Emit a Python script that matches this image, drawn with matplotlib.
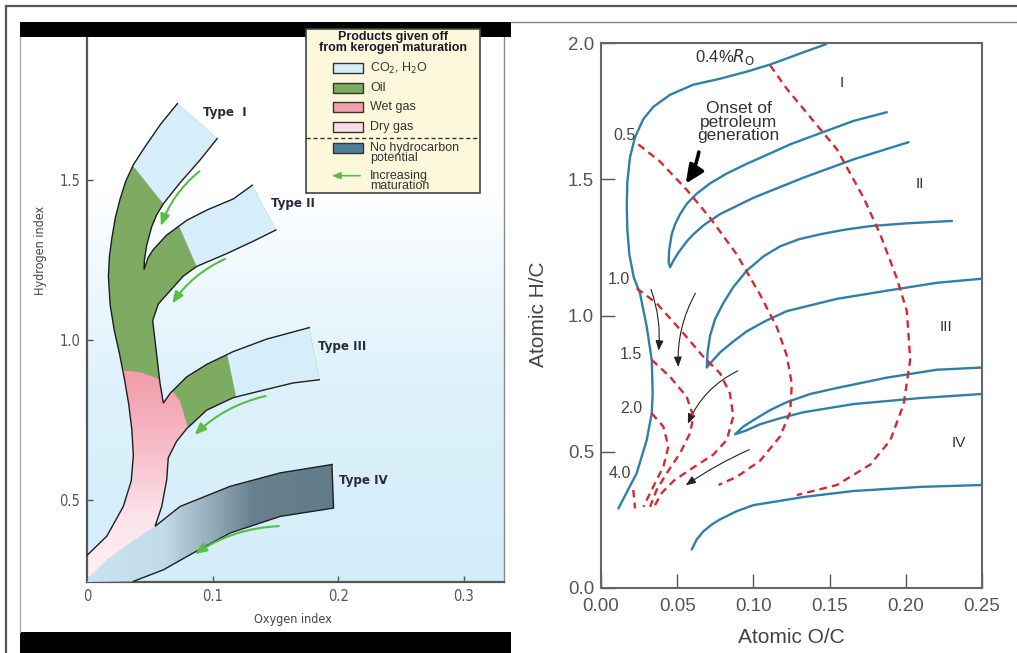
import numpy as np
import matplotlib.pyplot as plt
from matplotlib.patches import Polygon, Rectangle, FancyArrowPatch
from matplotlib.colors import LinearSegmentedColormap

W, H = 1017, 653
NARROW = ['DejaVu Sans']
SANS = ['Liberation Sans', 'DejaVu Sans']

# ---------------- left panel: kerogen bands (oxygen index, hydrogen index) -------------
outer_edge = [(0.0, 0.328), (0.0155, 0.387), (0.0287, 0.48), (0.0350, 0.56), (0.0367, 0.64),
              (0.0355, 0.72), (0.033, 0.80), (0.0295, 0.88), (0.0255, 0.96), (0.0215, 1.03),
              (0.0182, 1.11), (0.0168, 1.199), (0.0176, 1.26), (0.0194, 1.314), (0.0222, 1.38),
              (0.026, 1.439), (0.0305, 1.495), (0.0367, 1.548), (0.047, 1.61), (0.0585, 1.675),
              (0.0718, 1.739)]
type1_inner = [(0.1036, 1.630), (0.0898, 1.5625), (0.0738, 1.491), (0.0606, 1.426),
               (0.0551, 1.39), (0.0513, 1.354), (0.0473, 1.296), (0.0455, 1.25), (0.0452, 1.220)]
type2_upper = [(0.0485, 1.258), (0.0526, 1.283), (0.0632, 1.328), (0.0792, 1.374), (0.0951, 1.406),
               (0.1163, 1.441), (0.1315, 1.484)]
type2_lower = [(0.1503, 1.344), (0.1323, 1.309), (0.1110, 1.270), (0.0871, 1.230), (0.0765, 1.20),
               (0.0685, 1.165), (0.0566, 1.113), (0.0521, 1.061)]
trunk_mid = [(0.0552, 0.957), (0.0579, 0.866), (0.0606, 0.803)]
type3_upper = [(0.0659, 0.833), (0.0792, 0.885), (0.0951, 0.924), (0.1163, 0.964),
               (0.1429, 1.003), (0.1769, 1.039)]
type3_lower = [(0.1849, 0.876), (0.1641, 0.866), (0.1429, 0.846), (0.1163, 0.820),
               (0.0951, 0.781), (0.0792, 0.723), (0.0712, 0.684), (0.0645, 0.632)]
trunk_low = [(0.0633, 0.564), (0.0593, 0.48), (0.054, 0.418)]
type4_upper = [(0.0739, 0.48), (0.1138, 0.543), (0.1537, 0.585), (0.1949, 0.611)]
type4_upper_soft = [(0.002, 0.262), (0.0155, 0.314), (0.034, 0.366), (0.054, 0.418)]
type4_lower = [(0.1962, 0.475), (0.1537, 0.449), (0.1138, 0.397), (0.0845, 0.335),
               (0.0606, 0.282), (0.0367, 0.246)]
pink_boundary = [(0.028, 0.905), (0.042, 0.900), (0.055, 0.882), (0.066, 0.85),
                 (0.0739, 0.81), (0.0806, 0.72)]
co2_tip1 = [(0.0248, 1.60), (0.0367, 1.543), (0.0606, 1.426), (0.16, 1.62), (0.16, 2.0), (0.0248, 2.0)]
co2_tip2 = [(0.0705, 1.38), (0.0738, 1.350), (0.0871, 1.230), (0.0905, 1.20), (0.2, 1.25),
            (0.2, 1.52), (0.1, 1.52)]
co2_tip3 = [(0.109, 1.0), (0.111, 0.964), (0.1185, 0.824), (0.12, 0.79), (0.22, 0.8),
            (0.22, 1.1), (0.11, 1.1)]
maturation_arrows = [((0.0911, 1.533), (0.0579, 1.348)), ((0.1118, 1.257), (0.0664, 1.107)),
                     ((0.1442, 0.827), (0.0839, 0.697)), ((0.1548, 0.419), (0.0839, 0.326))]
kerogen_types = ['Type  I', 'Type II', 'Type III', 'Type IV']
kerogen_label_xy = [(0.0923, 1.712), (0.1462, 1.426), (0.1842, 0.98), (0.2002, 0.56)]

legend_names = ['CO$_2$, H$_2$O', 'Oil', 'Wet gas', 'Dry gas', 'No hydrocarbon\npotential']
legend_colors = ['#d5eefa', '#7dab62', '#f3a0ae', '#fbdbe7', '#4f7f98']

# ---------------- right panel: van Krevelen (atomic O/C, atomic H/C) -----------------
blue_type1 = [(0.1478, 1.996), (0.1329, 1.966), (0.111, 1.921), (0.0957, 1.895), (0.0782, 1.869),
              (0.0606, 1.847), (0.0453, 1.810), (0.0344, 1.766), (0.0278, 1.721), (0.0223, 1.654),
              (0.0190, 1.580), (0.0173, 1.491), (0.0169, 1.402), (0.0173, 1.313), (0.0186, 1.224),
              (0.0215, 1.14), (0.0256, 1.081), (0.030, 0.959), (0.0333, 0.837), (0.0339, 0.714),
              (0.0333, 0.641), (0.030, 0.543), (0.0234, 0.421), (0.0114, 0.292)]
blue_type2 = [(0.1876, 1.746), (0.1657, 1.714), (0.1438, 1.669), (0.125, 1.63), (0.111, 1.595),
              (0.095, 1.555), (0.0825, 1.521), (0.0716, 1.485), (0.0628, 1.447), (0.0563, 1.41),
              (0.0519, 1.372), (0.0486, 1.335), (0.0464, 1.298), (0.0447, 1.239), (0.0444, 1.195),
              (0.0453, 1.177), (0.0471, 1.197), (0.0508, 1.231), (0.0563, 1.272), (0.0606, 1.298),
              (0.068, 1.334), (0.0781, 1.372), (0.1, 1.432), (0.1329, 1.506), (0.1657, 1.573),
              (0.2018, 1.636)]
blue_type3 = [(0.2303, 1.347), (0.2, 1.338), (0.1767, 1.328), (0.16, 1.315), (0.1438, 1.298),
              (0.13, 1.28), (0.1176, 1.254), (0.1066, 1.217), (0.0957, 1.165), (0.0869, 1.105),
              (0.0803, 1.046), (0.0749, 0.987), (0.0716, 0.927), (0.07, 0.868), (0.0694, 0.809),
              (0.0727, 0.831), (0.0782, 0.865), (0.0869, 0.905), (0.0957, 0.942), (0.108, 0.98),
              (0.1219, 1.016), (0.1547, 1.061), (0.1876, 1.091), (0.2204, 1.12), (0.25, 1.135)]
blue_type34 = [(0.25, 0.809), (0.2204, 0.801), (0.1876, 0.772), (0.1548, 0.734), (0.1373, 0.712),
               (0.1219, 0.682), (0.111, 0.653), (0.1, 0.616), (0.0935, 0.593), (0.088, 0.564),
               (0.0957, 0.579), (0.1044, 0.601), (0.1176, 0.623), (0.1329, 0.645), (0.1657, 0.675),
               (0.2095, 0.697), (0.25, 0.712)]
blue_type4 = [(0.0595, 0.141), (0.0628, 0.178), (0.0672, 0.208), (0.0727, 0.233), (0.0782, 0.252),
              (0.0891, 0.282), (0.1, 0.304), (0.1165, 0.319), (0.1329, 0.334), (0.1657, 0.356),
              (0.2095, 0.371), (0.25, 0.378)]
ro_04 = [(0.111, 1.918), (0.1219, 1.832), (0.1373, 1.728), (0.1548, 1.61), (0.1723, 1.432),
         (0.1832, 1.298), (0.1942, 1.135), (0.2007, 1.016), (0.2029, 0.838), (0.1986, 0.675),
         (0.1898, 0.542), (0.1767, 0.453), (0.1548, 0.378), (0.1285, 0.341)]
ro_05 = [(0.0245, 1.628), (0.0387, 1.565), (0.0563, 1.461), (0.0716, 1.358), (0.0891, 1.224),
         (0.1044, 1.076), (0.1154, 0.957), (0.1219, 0.853), (0.1252, 0.749), (0.1241, 0.645),
         (0.1175, 0.556), (0.1044, 0.467), (0.0891, 0.408), (0.0771, 0.378)]
ro_10 = [(0.0234, 1.10), (0.0365, 1.045), (0.054, 0.935), (0.0671, 0.849), (0.0781, 0.788),
         (0.0846, 0.714), (0.0868, 0.629), (0.0825, 0.543), (0.0738, 0.49), (0.0600, 0.44),
         (0.0480, 0.395), (0.0400, 0.35), (0.0350, 0.30)]
ro_15 = [(0.0333, 0.837), (0.0453, 0.775), (0.0562, 0.702), (0.0606, 0.629), (0.0584, 0.568),
         (0.0518, 0.494), (0.0431, 0.421), (0.0365, 0.36), (0.0322, 0.298)]
ro_20 = [(0.0333, 0.641), (0.0409, 0.592), (0.0442, 0.519), (0.0409, 0.445), (0.0343, 0.372),
         (0.0278, 0.298)]
ro_40 = [(0.0212, 0.36), (0.0223, 0.292)]
ro_labels = ['0.5', '1.0', '1.5', '2.0', '4.0']
ro_label_xy = [(0.0081, 1.659), (0.0042, 1.132), (0.0125, 0.856), (0.0125, 0.657), (0.0048, 0.42)]
type_roman = ['I', 'II', 'III', 'IV']
type_roman_xy = [(0.158, 1.855), (0.2095, 1.481), (0.2263, 0.957), (0.2347, 0.531)]
path_arrows = [((0.0322, 1.105), (0.0376, 0.861), -0.12), ((0.0628, 1.09), (0.0508, 0.801), 0.15),
               ((0.0913, 0.801), (0.0563, 0.593), 0.2), ((0.099, 0.512), (0.0541, 0.371), 0.05)]


def px_rect(l, t, r, b):
    return [l / W, 1 - b / H, (r - l) / W, (b - t) / H]


fig = plt.figure(figsize=(W / 100, H / 100), dpi=100)
fig.patch.set_facecolor('white')

# ======================= left panel =======================
ax = fig.add_axes(px_rect(87.3, 37, 504, 582))
ax.set_xlim(0, 0.332)
ax.set_ylim(0.244, 1.947)

bg_cmap = LinearSegmentedColormap.from_list(
    'bg', [(0, '#d3edf9'), (0.33, '#dcf1fb'), (0.56, '#eef8fd'), (0.72, '#ffffff'), (1, '#ffffff')])
ax.imshow(np.linspace(0, 1, 256)[:, None], cmap=bg_cmap, aspect='auto', origin='lower',
          extent=[0, 0.332, 0.244, 1.947], zorder=0)

shape = outer_edge + type1_inner + type2_upper + type2_lower + trunk_mid + \
    type3_upper + type3_lower + trunk_low + [(0.0, 0.244)]
clip_shape = Polygon(shape, closed=True, facecolor='none', edgecolor='none')
ax.add_patch(clip_shape)

pink_cmap = LinearSegmentedColormap.from_list(
    'pink', [(0, '#fdf2f6'), (0.3, '#fce3eb'), (0.6, '#f7bfca'), (0.9, '#f3a2af'), (1, '#f29dab')])
im = ax.imshow(np.linspace(0, 1, 256)[:, None], cmap=pink_cmap, aspect='auto', origin='lower',
               extent=[-0.01, 0.12, 0.244, 0.92], zorder=1)
im.set_clip_path(clip_shape)

green_poly = [(-0.01, 0.905)] + pink_boundary + [(0.10, 0.60), (0.30, 0.60), (0.30, 1.95), (-0.01, 1.95)]
p = Polygon(green_poly, closed=True, facecolor='#7dab62', edgecolor='none', zorder=2)
ax.add_patch(p)
p.set_clip_path(clip_shape)
for tip in (co2_tip1, co2_tip2, co2_tip3):
    p = Polygon(tip, closed=True, facecolor='#d5eefa', edgecolor='none', zorder=3)
    ax.add_patch(p)
    p.set_clip_path(clip_shape)

band4 = type4_upper_soft + type4_upper + type4_lower + [(0.0, 0.244)]
band4_patch = Polygon(band4, closed=True, facecolor='none', edgecolor='none')
ax.add_patch(band4_patch)
dark_cmap = LinearSegmentedColormap.from_list(
    'dark', [(0, '#c9e3f0'), (0.3, '#c3dcea'), (0.5, '#93abb8'), (0.66, '#68818f'), (1, '#627b89')])
im4 = ax.imshow(np.linspace(0, 1, 256)[None, :], cmap=dark_cmap, aspect='auto', origin='lower',
                extent=[0, 0.2, 0.244, 0.62], zorder=4)
im4.set_clip_path(band4_patch)

line_kw = dict(color='#1e1e1e', lw=1.0, zorder=5, solid_joinstyle='miter')
for seg in (outer_edge, type1_inner + type2_upper,
            type2_lower + trunk_mid + type3_upper,
            type3_lower + trunk_low + type4_upper,
            [type4_upper[-1]] + type4_lower):
    xs, ys = zip(*seg)
    ax.plot(xs, ys, **line_kw)

for (a, b) in maturation_arrows:
    ax.add_patch(FancyArrowPatch(a, b, connectionstyle='arc3,rad=0.15',
                                 arrowstyle='-|>,head_length=7,head_width=2.8',
                                 color='#57bd45', lw=1.5, zorder=6))
for name, (x, y) in zip(kerogen_types, kerogen_label_xy):
    ax.text(x, y, name, family=NARROW, fontstretch='condensed', fontsize=9.5, fontweight='bold',
            color='#2b2b3b', ha='left', va='center', zorder=6)

ax.set_xticks([0, 0.1, 0.2, 0.3])
ax.set_xticklabels(['0', '0.1', '0.2', '0.3'])
ax.set_yticks([0.5, 1.0, 1.5])
ax.set_yticklabels(['0.5', '1.0', '1.5'])
ax.tick_params(direction='in', length=4, width=1, color='#555555', labelcolor='#555555',
               labelsize=10.5, pad=5)
for lab in ax.get_xticklabels() + ax.get_yticklabels():
    lab.set_family(NARROW)
    lab.set_fontstretch('condensed')
ax.spines['top'].set_visible(False)
for s in ('left', 'bottom'):
    ax.spines[s].set_color('#555555')
    ax.spines[s].set_linewidth(1.6)
ax.spines['right'].set_color('#888888')
ax.spines['right'].set_linewidth(1.0)
ax.set_xlabel('Oxygen index', family=NARROW, fontstretch='condensed', fontsize=9, color='#444444')
ax.set_ylabel('Hydrogen index', family=NARROW, fontstretch='condensed', fontsize=9, color='#444444')
ax.xaxis.set_label_coords(0.493, -0.057)
ax.yaxis.set_label_coords(-0.097, 0.609)

# ======================= right panel =======================
bx = fig.add_axes(px_rect(601, 43, 982, 588))
bx.set_xlim(0, 0.25)
bx.set_ylim(0, 2.0)
blue_kw = dict(color='#2f80a8', lw=1.7, solid_capstyle='round', solid_joinstyle='round')
for curve in (blue_type1, blue_type2, blue_type3, blue_type34, blue_type4):
    xs, ys = zip(*curve)
    bx.plot(xs, ys, **blue_kw)
red_kw = dict(color='#d42a32', lw=1.7, dashes=(3.2, 2.2))
for curve in (ro_04, ro_05, ro_10, ro_15, ro_20, ro_40):
    xs, ys = zip(*curve)
    bx.plot(xs, ys, **red_kw)

bx.text(0.0617, 1.948, '0.4%$R_\\mathrm{O}$', fontsize=12, color='#333333', family=SANS,
        ha='left', va='center')
for lab, (x, y) in zip(ro_labels, ro_label_xy):
    bx.text(x, y, lab, fontsize=11.5, color='#444444', family=SANS, ha='left', va='center')
for lab, (x, y) in zip(type_roman, type_roman_xy):
    bx.text(x, y, lab, fontsize=11, color='#333333', family=SANS, ha='center', va='center')
bx.text(0.0902, 1.71, 'Onset of\npetroleum\ngeneration', fontsize=12.5, color='#333333',
        family=SANS, ha='center', va='center', linespacing=0.9)
bx.add_patch(FancyArrowPatch((0.0642, 1.60), (0.0556, 1.484), connectionstyle='arc3,rad=-0.1',
                             arrowstyle='-|>,head_length=1.1,head_width=0.5',
                             mutation_scale=10, color='black', lw=2.6, shrinkA=0, shrinkB=0))
for a, b, rad in path_arrows:
    bx.add_patch(FancyArrowPatch(a, b, connectionstyle='arc3,rad=%g' % rad,
                                 arrowstyle='-|>,head_length=6,head_width=2.4',
                                 color='#222222', lw=0.8))

bx.set_xticks([0, 0.05, 0.10, 0.15, 0.20, 0.25])
bx.set_xticklabels(['0.00', '0.05', '0.10', '0.15', '0.20', '0.25'])
bx.set_yticks([0, 0.5, 1.0, 1.5, 2.0])
bx.set_yticklabels(['0.0', '0.5', '1.0', '1.5', '2.0'])
bx.tick_params(direction='in', length=10, width=1, color='#555555', labelcolor='#555555',
               labelsize=13.5)
bx.tick_params(axis='x', pad=7)
bx.tick_params(axis='y', pad=5)
for lab in bx.get_xticklabels() + bx.get_yticklabels():
    lab.set_family(SANS)
for s in bx.spines.values():
    s.set_color('#666666')
    s.set_linewidth(1.5)
bx.set_xlabel('Atomic O/C', family=SANS, fontsize=15, color='#444444')
bx.set_ylabel('Atomic H/C', family=SANS, fontsize=15, color='#444444')
bx.xaxis.set_label_coords(0.5, -0.073)
bx.yaxis.set_label_coords(-0.138, 0.503)

# ======================= page frame, bars, legend box =======================
ov = fig.add_axes([0, 0, 1, 1], zorder=5)
ov.set_xlim(0, W)
ov.set_ylim(H, 0)
ov.axis('off')
ov.patch.set_visible(False)
ov.plot([6, W], [6, 6], color='#555555', lw=1.6)
ov.plot([6, 6], [6, H], color='#555555', lw=1.6)
ov.plot([511, W], [22, 22], color='#888888', lw=1.0)
ov.plot([20, 20], [37, 632], color='#aaaaaa', lw=0.9)
ov.add_patch(Rectangle((20, 22), 491, 15, facecolor='black', edgecolor='none'))
ov.add_patch(Rectangle((20, 632), 491, 25, facecolor='black', edgecolor='none'))

ov.add_patch(Rectangle((306, 29), 174, 164, facecolor='#fdf8dc', edgecolor='#444444', lw=1.2))
ov.text(393, 42.5, 'Products given off\nfrom kerogen maturation', family=SANS, fontsize=9,
        fontweight='bold', color='#1a1a2a', ha='center', va='center', linespacing=0.85)
sw_y = [68.3, 88.3, 107.3, 126.7, 148.3]
for name, col, y in zip(legend_names, legend_colors, sw_y):
    ov.add_patch(Rectangle((332.5, y - 5), 30.5, 10, facecolor=col, edgecolor='#333333', lw=1.0))
    if '\n' in name:
        ov.text(370, y - 6.5, name, family=SANS, fontsize=9, color='#333333', ha='left',
                va='top', linespacing=0.8)
    else:
        ov.text(370, y, name, family=SANS, fontsize=9, color='#333333', ha='left', va='center')
ov.plot([306, 480], [137.7, 137.7], color='#333333', lw=1.0, dashes=(3, 2))
ov.add_patch(FancyArrowPatch((363, 175.7), (329, 175.7), arrowstyle='-|>,head_length=5,head_width=2',
                             color='#57bd45', lw=1.2))
ov.text(370, 169.5, 'Increasing\nmaturation', family=SANS, fontsize=9, color='#333333',
        ha='left', va='top', linespacing=0.8)

fig.savefig('out.png', dpi=100)
